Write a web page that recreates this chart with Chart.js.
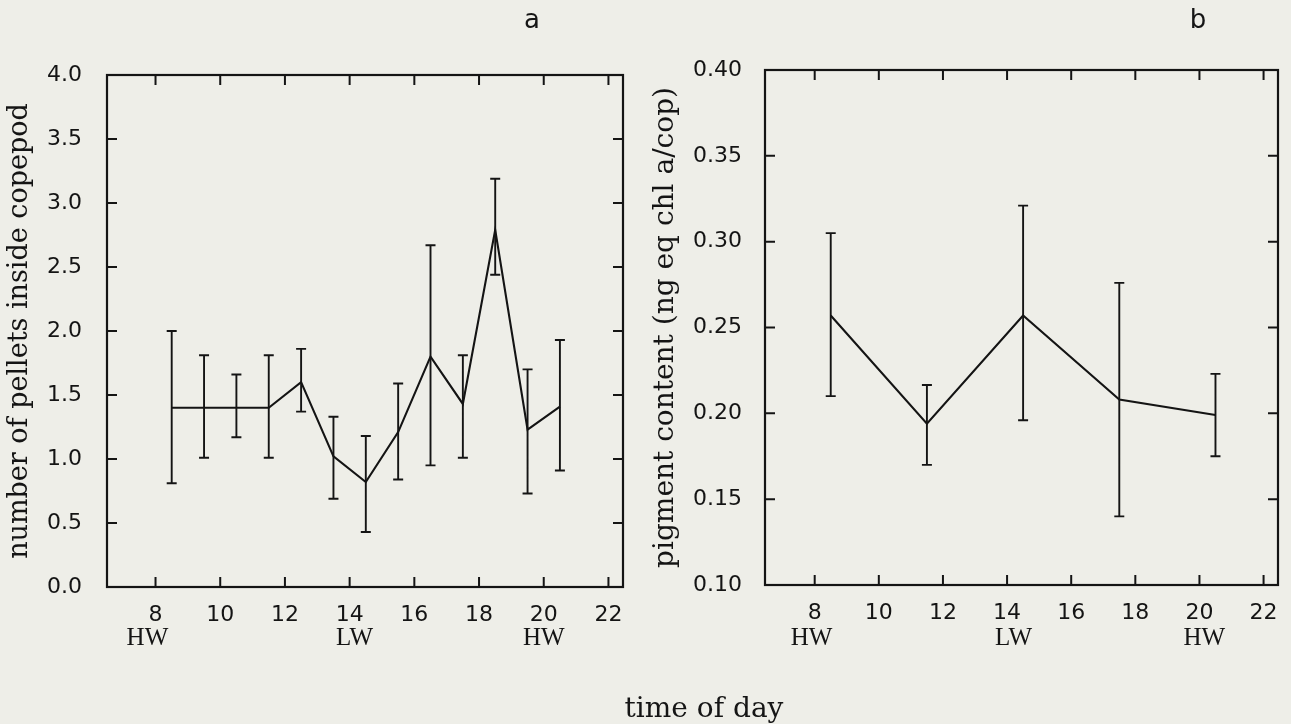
<!DOCTYPE html>
<html>
<head>
<meta charset="utf-8">
<script src="https://cdn.jsdelivr.net/npm/chart.js@4.4.1/dist/chart.umd.min.js"></script>
<style>
  body { margin: 0; background: #eeeee8; }
  #page { position: relative; width: 1291px; height: 724px; overflow: hidden; background: #eeeee8; }
  canvas { position: absolute; top: 0; }
  .lbl { position: absolute; color: #151515; white-space: nowrap; transform: translateX(-50%); }
</style>
</head>
<body>
<div id="page">
  <canvas id="chart-a" width="645" height="724" style="left:0"></canvas>
  <canvas id="chart-b" width="646" height="724" style="left:645px"></canvas>
  <div class="lbl" style="left:532px;top:6px;font:26px/26px 'DejaVu Sans'">a</div>
  <div class="lbl" style="left:1198px;top:6px;font:26px/26px 'DejaVu Sans'">b</div>
  <div class="lbl" style="left:704px;top:694px;font:28px/28px 'DejaVu Serif'">time of day</div>
</div>
<script>
// panel a - pellets inside copepod
const hoursA = [8.5, 9.5, 10.5, 11.5, 12.5, 13.5, 14.5, 15.5, 16.5, 17.5, 18.5, 19.5, 20.5];
const pelletsMean = [1.4, 1.4, 1.4, 1.4, 1.6, 1.02, 0.82, 1.21, 1.8, 1.43, 2.79, 1.23, 1.41];
const pelletsHigh = [2.0, 1.81, 1.66, 1.81, 1.86, 1.33, 1.18, 1.59, 2.67, 1.81, 3.19, 1.7, 1.93];
const pelletsLow = [0.81, 1.01, 1.17, 1.01, 1.37, 0.69, 0.43, 0.84, 0.95, 1.01, 2.44, 0.73, 0.91];
const yTicksA = [0, 0.5, 1, 1.5, 2, 2.5, 3, 3.5, 4];

// panel b - pigment content
const hoursB = [8.5, 11.5, 14.5, 17.5, 20.5];
const pigmentMean = [0.257, 0.194, 0.257, 0.208, 0.199];
const pigmentHigh = [0.305, 0.2165, 0.321, 0.276, 0.223];
const pigmentLow = [0.21, 0.17, 0.196, 0.14, 0.175];
const yTicksB = [0.1, 0.15, 0.2, 0.25, 0.3, 0.35, 0.4];

// shared
const xTicks = [8, 10, 12, 14, 16, 18, 20, 22];
const tideNames = ['HW', 'LW', 'HW'];
const tideHoursA = [7.75, 14.15, 20.0];
const tideHoursB = [7.9, 14.2, 20.15];

const INK = '#141414';

const errorBars = {
  id: 'errorBars',
  afterDatasetsDraw(chart, args, opts) {
    const { ctx, scales: { x, y } } = chart;
    ctx.save();
    ctx.strokeStyle = INK;
    ctx.lineWidth = 1.9;
    ctx.beginPath();
    opts.hours.forEach((h, i) => {
      const px = x.getPixelForValue(h);
      const top = y.getPixelForValue(opts.high[i]);
      const bot = y.getPixelForValue(opts.low[i]);
      ctx.moveTo(px, top); ctx.lineTo(px, bot);
      ctx.moveTo(px - 5, top); ctx.lineTo(px + 5, top);
      ctx.moveTo(px - 5, bot); ctx.lineTo(px + 5, bot);
    });
    ctx.stroke();
    ctx.restore();
  },
};

// box round the plot with inward ticks on all four sides
const frame = {
  id: 'frame',
  afterDraw(chart) {
    const { ctx, chartArea: a, scales: { x, y } } = chart;
    ctx.save();
    ctx.strokeStyle = INK;
    ctx.lineWidth = 2.2;
    ctx.strokeRect(a.left, a.top, a.right - a.left, a.bottom - a.top);
    ctx.lineWidth = 2;
    ctx.beginPath();
    x.ticks.forEach((t) => {
      const px = x.getPixelForValue(t.value);
      ctx.moveTo(px, a.bottom); ctx.lineTo(px, a.bottom - 10);
      ctx.moveTo(px, a.top); ctx.lineTo(px, a.top + 10);
    });
    y.ticks.forEach((t) => {
      const py = y.getPixelForValue(t.value);
      ctx.moveTo(a.left, py); ctx.lineTo(a.left + 10, py);
      ctx.moveTo(a.right, py); ctx.lineTo(a.right - 10, py);
    });
    ctx.stroke();
    ctx.restore();
  },
};

const tideLabels = {
  id: 'tideLabels',
  afterDraw(chart, args, opts) {
    const { ctx, scales: { x } } = chart;
    ctx.save();
    ctx.fillStyle = INK;
    ctx.font = '25px "Liberation Serif"';
    ctx.textAlign = 'center';
    ctx.textBaseline = 'alphabetic';
    opts.hours.forEach((h, i) => {
      ctx.fillText(opts.names[i], x.getPixelForValue(h), 645);
    });
    ctx.restore();
  },
};

function makeChart(id, cfg) {
  const data = cfg.hours.map((h, i) => ({ x: h, y: cfg.mean[i] }));
  return new Chart(document.getElementById(id).getContext('2d'), {
    type: 'line',
    data: {
      datasets: [{
        data: data,
        borderColor: INK,
        borderWidth: 2.1,
        pointRadius: 0,
        tension: 0,
        fill: false,
      }],
    },
    plugins: [errorBars, frame, tideLabels],
    options: {
      responsive: false,
      animation: false,
      devicePixelRatio: 1,
      layout: { padding: { left: 0, top: cfg.top, right: cfg.right, bottom: 0 } },
      plugins: {
        legend: { display: false },
        tooltip: { enabled: false },
        errorBars: { hours: cfg.hours, high: cfg.high, low: cfg.low },
        tideLabels: { hours: cfg.tideHours, names: tideNames },
      },
      scales: {
        x: {
          type: 'linear',
          min: cfg.xMin,
          max: 22.45,
          grid: { display: false },
          border: { display: false },
          afterBuildTicks: (s) => { s.ticks = xTicks.map((v) => ({ value: v })); },
          afterFit: (s) => { s.height = 724 - cfg.bottom; },
          ticks: {
            padding: 7,
            color: INK,
            font: { family: 'DejaVu Sans', size: 22 },
            maxRotation: 0,
            callback: (v) => v,
          },
        },
        y: {
          type: 'linear',
          min: cfg.yTicks[0],
          max: cfg.yTicks[cfg.yTicks.length - 1],
          grid: { display: false },
          border: { display: false },
          afterBuildTicks: (s) => { s.ticks = cfg.yTicks.map((v) => ({ value: v })); },
          afterFit: (s) => { s.width = cfg.axisW; },
          ticks: {
            padding: cfg.tickPad,
            color: INK,
            font: { family: 'DejaVu Sans', size: 22 },
            callback: (v) => Number(v).toFixed(cfg.digits),
          },
          title: {
            display: true,
            text: cfg.title,
            color: INK,
            font: { family: 'DejaVu Serif', size: cfg.titleSize },
            padding: { top: cfg.titlePad, bottom: 0 },
          },
        },
      },
    },
  });
}

makeChart('chart-a', {
  hours: hoursA, mean: pelletsMean, high: pelletsHigh, low: pelletsLow,
  yTicks: yTicksA, digits: 1, tideHours: tideHoursA,
  title: 'number of pellets inside copepod', titleSize: 27, titlePad: 4,
  xMin: 6.5, top: 75, bottom: 587, right: 22, axisW: 107, tickPad: 17,
});

makeChart('chart-b', {
  hours: hoursB, mean: pigmentMean, high: pigmentHigh, low: pigmentLow,
  yTicks: yTicksB, digits: 2, tideHours: tideHoursB,
  title: 'pigment content (ng eq chl a/cop)', titleSize: 28, titlePad: 4,
  xMin: 6.45, top: 70, bottom: 585, right: 13, axisW: 120, tickPad: 15,
});
</script>
</body>
</html>
